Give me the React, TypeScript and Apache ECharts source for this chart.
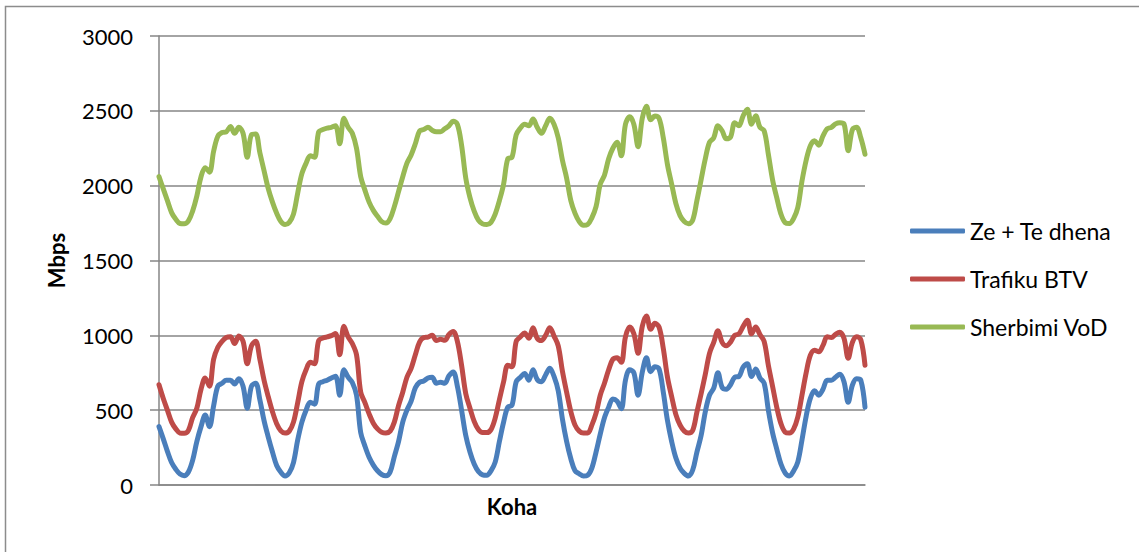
import React, { useEffect, useRef } from "react";
import * as echarts from "echarts";

// hourly samples over 7 days (169 points, hour 0 .. hour 168)
const hours: string[] = [];
for (let d = 0; d < 7; d++) {
  for (let h = 0; h < 24; h++) hours.push(`D${d + 1} ${String(h).padStart(2, "0")}:00`);
}
hours.push("D8 00:00");

const seriesNames = ["Ze + Te dhena", "Trafiku BTV", "Sherbimi VoD"];
const yTicks = [0, 500, 1000, 1500, 2000, 2500, 3000];

const zeTeDhena = [
  390, 310, 225, 150, 105, 73, 62, 87, 165, 290, 390, 467, 390, 530, 660, 680, 700, 700, 675, 710, 660, 513, 660, 680,
  570, 430, 320, 220, 130, 85, 60, 82, 150, 300, 420, 500, 553, 540, 675, 690, 700, 715, 727, 600, 770, 720, 685, 600,
  350, 260, 185, 133, 95, 70, 62, 87, 190, 290, 420, 500, 560, 650, 687, 695, 715, 720, 680, 687, 680, 730, 755, 660,
  500, 330, 220, 140, 90, 68, 65, 95, 153, 290, 420, 520, 533, 690, 720, 745, 700, 770, 705, 690, 735, 780, 725, 630,
  440, 290, 175, 95, 75, 60, 65, 113, 220, 340, 450, 520, 575, 560, 510, 700, 770, 750, 600, 753, 850, 757, 790, 775,
  620, 430, 290, 180, 113, 78, 60, 100, 220, 330, 490, 600, 647, 750, 653, 640, 670, 720, 725, 787, 810, 725, 775, 715,
  680, 500, 350, 240, 140, 80, 60, 93, 153, 300, 460, 580, 630, 600, 640, 700, 700, 720, 740, 690, 553, 667, 710, 700,
  520,
];

const trafikuBTV = [
  670, 580, 500, 420, 375, 347, 345, 365, 450, 513, 640, 715, 660, 840, 920, 960, 985, 990, 945, 995, 960, 810, 930, 960,
  840, 700, 590, 490, 410, 362, 347, 360, 420, 550, 690, 770, 820, 810, 965, 982, 990, 998, 1013, 870, 1060, 990, 945, 870,
  620, 550, 475, 413, 375, 353, 348, 360, 420, 530, 620, 720, 780, 870, 955, 985, 988, 1000, 965, 973, 967, 1005, 1025, 960,
  800, 610, 513, 425, 370, 350, 350, 370, 447, 570, 690, 800, 790, 960, 990, 1015, 980, 1050, 980, 965, 1000, 1050, 995, 930,
  760, 620, 490, 400, 360, 347, 347, 400, 480, 600, 680, 770, 840, 850, 820, 990, 1055, 1010, 880, 1060, 1130, 1040, 1080, 1055,
  913, 720, 590, 470, 400, 360, 347, 365, 487, 610, 740, 880, 953, 1030, 953, 930, 955, 1000, 1010, 1060, 1100, 1010, 1055, 1005,
  960, 800, 660, 520, 410, 353, 347, 373, 453, 600, 750, 867, 900, 890, 933, 990, 985, 1007, 1020, 980, 847, 953, 990, 970,
  800,
];

const sherbimiVoD = [
  2060, 1980, 1900, 1820, 1775, 1747, 1745, 1765, 1830, 1930, 2060, 2120, 2090, 2230, 2330, 2355, 2360, 2395, 2350, 2390, 2350, 2190, 2340, 2345,
  2220, 2100, 1980, 1890, 1815, 1760, 1740, 1755, 1810, 1950, 2080, 2150, 2200, 2190, 2360, 2375, 2385, 2390, 2400, 2280, 2450, 2390, 2350, 2250,
  2060, 1970, 1890, 1835, 1795, 1760, 1750, 1780, 1860, 1960, 2060, 2150, 2205, 2280, 2365, 2375, 2390, 2370, 2360, 2360, 2380, 2400, 2430, 2410,
  2270, 2050, 1920, 1830, 1770, 1745, 1740, 1755, 1810, 1900, 2010, 2180, 2190, 2340, 2385, 2410, 2400, 2445, 2390, 2350, 2400, 2450, 2410, 2320,
  2170, 2050, 1900, 1815, 1760, 1735, 1740, 1785, 1860, 2010, 2070, 2180, 2250, 2290, 2200, 2410, 2460, 2410, 2260, 2450, 2530, 2440, 2465, 2450,
  2320, 2140, 2010, 1880, 1800, 1760, 1745, 1770, 1900, 2040, 2180, 2290, 2320, 2400, 2367, 2313, 2325, 2420, 2400, 2467, 2510, 2410, 2467, 2390,
  2367, 2210, 2040, 1920, 1810, 1753, 1747, 1780, 1853, 2030, 2170, 2267, 2300, 2270, 2333, 2380, 2390, 2413, 2420, 2413, 2233, 2375, 2390, 2320,
  2210,
];

const colors = ["#4A7EBB", "#BE4B48", "#98B954"];
const FONT = "Lato, 'Liberation Sans', sans-serif";

export default function App() {
  const ref = useRef<HTMLDivElement>(null);
  useEffect(() => {
    if (!ref.current) return;
    const chart = echarts.init(ref.current, undefined, { renderer: "svg" });
    const data = [zeTeDhena, trafikuBTV, sherbimiVoD];
    chart.setOption({
      animation: false,
      backgroundColor: "#ffffff",
      textStyle: { fontFamily: FONT },
      grid: { left: 159, top: 36, right: 274, bottom: 67, containLabel: false },
      graphic: [
        {
          type: "rect",
          shape: { x: 5.5, y: 6.5, width: 1300, height: 700 },
          style: { fill: "none", stroke: "#8c8c8c", lineWidth: 1.5 },
          silent: true,
        },
      ],
      legend: {
        orient: "vertical",
        left: 905,
        top: 214,
        itemWidth: 55,
        itemHeight: 5,
        itemGap: 24,
        icon: "roundRect",
        textStyle: { fontFamily: FONT, fontSize: 23, color: "#000", lineHeight: 24 },
        data: seriesNames,
      },
      xAxis: {
        type: "category",
        data: hours,
        boundaryGap: false,
        name: "Koha",
        nameLocation: "middle",
        nameGap: 10,
        nameTextStyle: { fontFamily: FONT, fontSize: 22, fontWeight: "bold", color: "#000" },
        axisLine: { lineStyle: { color: "#868686", width: 1.5 } },
        axisTick: { show: false },
        axisLabel: { show: false },
        splitLine: { show: false },
      },
      yAxis: {
        type: "value",
        min: yTicks[0],
        max: yTicks[yTicks.length - 1],
        interval: 500,
        name: "Mbps",
        nameLocation: "middle",
        nameGap: 92,
        nameRotate: 90,
        nameTextStyle: { fontFamily: FONT, fontSize: 22, fontWeight: "bold", color: "#000" },
        axisLine: { show: true, lineStyle: { color: "#868686", width: 1.5 } },
        axisTick: { show: true, length: 9, lineStyle: { color: "#868686", width: 1.5 } },
        axisLabel: {
          fontFamily: FONT,
          fontSize: 22,
          color: "#000",
          margin: 26,
          formatter: (v: number) => String(v),
        },
        splitLine: { show: true, lineStyle: { color: "#868686", width: 1.5 } },
      },
      series: seriesNames.map((name, i) => ({
        name,
        type: "line",
        data: data[i],
        showSymbol: false,
        symbol: "none",
        smooth: 0.35,
        color: colors[i],
        lineStyle: { color: colors[i], width: 5, cap: "round", join: "round" },
      })),
    });
    return () => chart.dispose();
  }, []);
  return (
    <div
      ref={ref}
      style={{ position: "absolute", left: 0, top: 0, width: 1139, height: 552, background: "#fff" }}
    />
  );
}
